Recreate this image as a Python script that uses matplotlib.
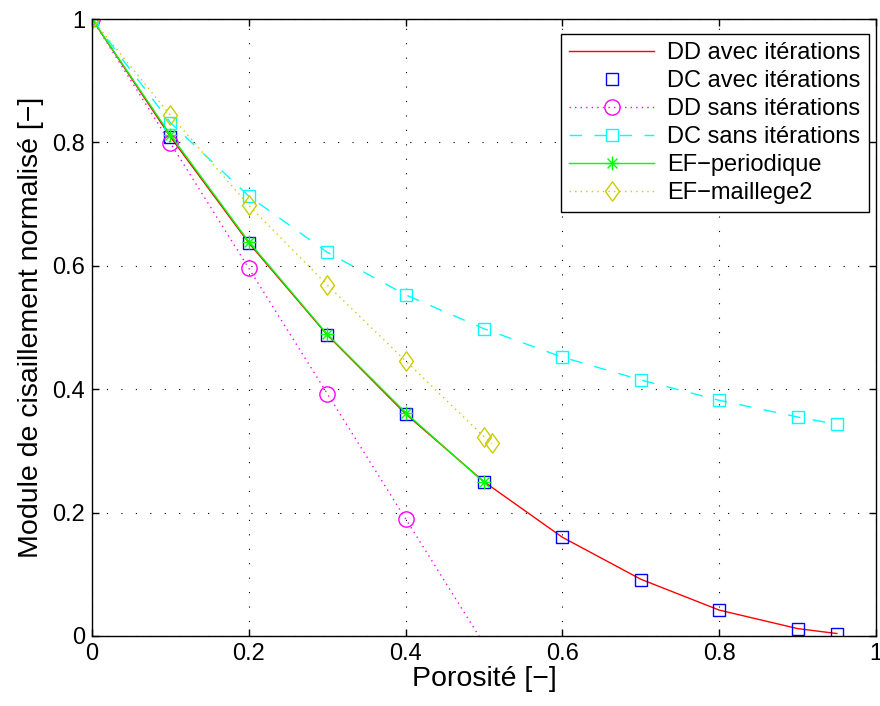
import matplotlib
matplotlib.use("Agg")
import matplotlib.pyplot as plt
from matplotlib.path import Path

plt.rcParams["font.family"] = ["Liberation Sans", "DejaVu Sans"]

# porosity values
x_full = [0, 0.1, 0.2, 0.3, 0.4, 0.5, 0.6, 0.7, 0.8, 0.9, 0.95]
dd_avec = [1.0, 0.809, 0.637, 0.488, 0.360, 0.250, 0.160, 0.092, 0.042, 0.012, 0.004]
dc_avec = [1.0, 0.809, 0.637, 0.488, 0.360, 0.250, 0.160, 0.091, 0.042, 0.012, 0.004]
dc_sans = [1.0, 0.832, 0.713, 0.622, 0.553, 0.498, 0.452, 0.415, 0.382, 0.355, 0.343]

x_dd_sans = [0, 0.1, 0.2, 0.3, 0.4, 0.5]
dd_sans = [1.0, 0.799, 0.596, 0.393, 0.190, -0.013]

x_ef_per = [0, 0.1, 0.2, 0.3, 0.4, 0.5]
ef_per = [1.0, 0.812, 0.639, 0.489, 0.362, 0.249]

x_ef_m2 = [0, 0.1, 0.2, 0.3, 0.4, 0.5, 0.51]
ef_m2 = [1.0, 0.844, 0.698, 0.569, 0.446, 0.323, 0.312]

tick_vals = [0, 0.2, 0.4, 0.6, 0.8, 1]
tick_labels = ["0", "0.2", "0.4", "0.6", "0.8", "1"]

yellow = (0.8, 0.8, 0.0)

# matlab-like markers: line asterisk and tall diamond
d = 0.7071
asterisk = Path(
    [(-1, 0), (1, 0), (0, -1), (0, 1), (-d, -d), (d, d), (-d, d), (d, -d)],
    [Path.MOVETO, Path.LINETO] * 4,
)
diamond = Path([(0, 1), (0.72, 0), (0, -1), (-0.72, 0), (0, 1)],
               [Path.MOVETO, Path.LINETO, Path.LINETO, Path.LINETO, Path.CLOSEPOLY])

fig = plt.figure(figsize=(8.8, 7.06), dpi=100)
ax = fig.add_axes([92 / 880, 1 - 636 / 706, 784 / 880, 617 / 706])

ax.plot(x_full, dd_avec, "-", color="red", lw=1.0, label="DD avec itérations")
ax.plot(x_full, dc_avec, "s", color="blue", mfc="none", ms=8.8, mew=1.0,
        linestyle="none", label="DC avec itérations")
vis = [i for i, v in enumerate(dd_sans) if v >= 0]
ax.plot(x_dd_sans, dd_sans, color="magenta", linestyle=(0, (1, 3)), marker="o",
        mfc="none", ms=11, mew=1.0, lw=1.0, markevery=vis,
        label="DD sans itérations")
ax.plot(x_full, dc_sans, color="cyan", linestyle=(0, (9, 9)), marker="s",
        mfc="none", ms=8.8, mew=1.0, lw=1.0, label="DC sans itérations")
ax.plot(x_ef_per, ef_per, "-", color="lime", marker=asterisk, mfc="none",
        ms=10, mew=1.0, lw=1.0, label="EF\u2212periodique")
ax.plot(x_ef_m2, ef_m2, color=yellow, linestyle=(0, (1, 3)), marker=diamond,
        mfc="none", ms=14, mew=1.0, lw=1.0, label="EF\u2212maillege2")

ax.set_xlim(0, 1)
ax.set_ylim(0, 1)
ax.set_xticks(tick_vals)
ax.set_yticks(tick_vals)
ax.set_xticklabels(tick_labels)
ax.set_yticklabels(tick_labels)
ax.grid(True, color="black", linestyle=(0, (1, 12)), lw=0.8)
ax.tick_params(direction="in", top=True, right=True, labelsize=17, length=5,
               width=1.0, pad=5)
for s in ax.spines.values():
    s.set_linewidth(1.0)

ax.set_xlabel("Porosité [\u2212]", fontsize=20.5, labelpad=1)
ax.set_ylabel("Module de cisaillement normalisé [\u2212]", fontsize=20.5,
              labelpad=6)

leg = ax.legend(loc="upper right", bbox_to_anchor=(869 / 880, 1 - 34 / 706),
                bbox_transform=fig.transFigure, fontsize=17, frameon=True,
                fancybox=False, edgecolor="black", framealpha=1,
                borderaxespad=0, handlelength=3.6, handletextpad=0.55,
                labelspacing=0.25, borderpad=0.35)
leg.get_frame().set_linewidth(1.0)

fig.savefig("out.png", dpi=100)
